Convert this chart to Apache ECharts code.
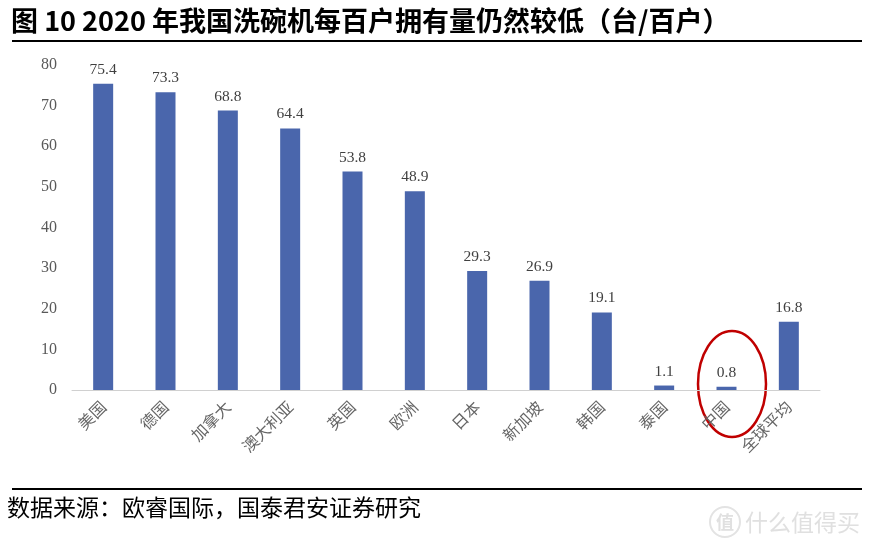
<!DOCTYPE html>
<html><head><meta charset="utf-8">
<script src="https://cdn.jsdelivr.net/npm/echarts@6/dist/echarts.min.js"></script>
<style>html,body{margin:0;padding:0;background:#fff}#c{width:873px;height:553px}</style>
</head><body><div id="c"></div>
<script>
var categories = ['美国','德国','加拿大','澳大利亚','英国','欧洲','日本','新加坡','韩国','泰国','中国','全球平均'];
var values = [75.4,73.3,68.8,64.4,53.8,48.9,29.3,26.9,19.1,1.1,0.8,16.8];
var yTicks = [0,10,20,30,40,50,60,70,80];
var titleText = '图 10 2020 年我国洗碗机每百户拥有量仍然较低（台/百户）';
var sourceText = '数据来源：欧睿国际，国泰君安证券研究';

var chart = echarts.init(document.getElementById('c'));
chart.setOption({
  animation: false,
  grid: {left: 72, right: 53, top: 65, bottom: 163, containLabel: false},
  xAxis: {
    type: 'category', data: categories,
    axisLine: {lineStyle: {color: '#d0d0d0', width: 1}},
    axisTick: {show: false},
    axisLabel: {rotate: 45, interval: 0, color: '#666666', fontSize: 16, margin: 14,
      fontFamily: '"Noto Sans CJK SC", sans-serif'}
  },
  yAxis: {
    type: 'value', min: yTicks[0], max: yTicks[yTicks.length-1], interval: 10,
    splitLine: {show: false}, axisLine: {show: false}, axisTick: {show: false},
    axisLabel: {color: '#595959', fontSize: 16, margin: 15, fontFamily: '"Liberation Serif", serif'}
  },
  series: [{
    type: 'bar', data: values, barWidth: 20,
    itemStyle: {color: '#4a66ac'},
    label: {show: true, position: 'top', distance: 6, color: '#404040', fontSize: 15.5,
      fontFamily: '"Liberation Serif", serif'}
  }],
  graphic: [
    {type: 'text', left: 11, top: 7, style: {text: titleText,
      fill: '#000', font: 'bold 27px "Noto Sans CJK SC", sans-serif'}},
    {type: 'rect', shape: {x: 12, y: 40, width: 850, height: 2}, style: {fill: '#000'}},
    {type: 'rect', shape: {x: 12, y: 488, width: 850, height: 2}, style: {fill: '#000'}},
    {type: 'text', left: 7, top: 496, style: {text: sourceText,
      font: '23px "Noto Sans CJK SC", sans-serif', fill: '#000'}},
    {type: 'ellipse', shape: {cx: 732, cy: 384, rx: 34, ry: 53},
      style: {fill: 'none', stroke: '#c00000', lineWidth: 2.5}},
    {type: 'circle', shape: {cx: 725, cy: 522, r: 15}, style: {fill: 'none', stroke: '#e3e3e3', lineWidth: 2}},
    {type: 'text', x: 725, y: 522, style: {text: '值', font: 'bold 18px "Noto Sans CJK SC", sans-serif',
      fill: '#e0e0e0', align: 'center', verticalAlign: 'middle'}},
    {type: 'text', x: 745, y: 522, style: {text: '什么值得买', font: '23px "Noto Sans CJK SC", sans-serif',
      fill: '#e0e0e0', verticalAlign: 'middle'}}
  ]
});
</script></body></html>
